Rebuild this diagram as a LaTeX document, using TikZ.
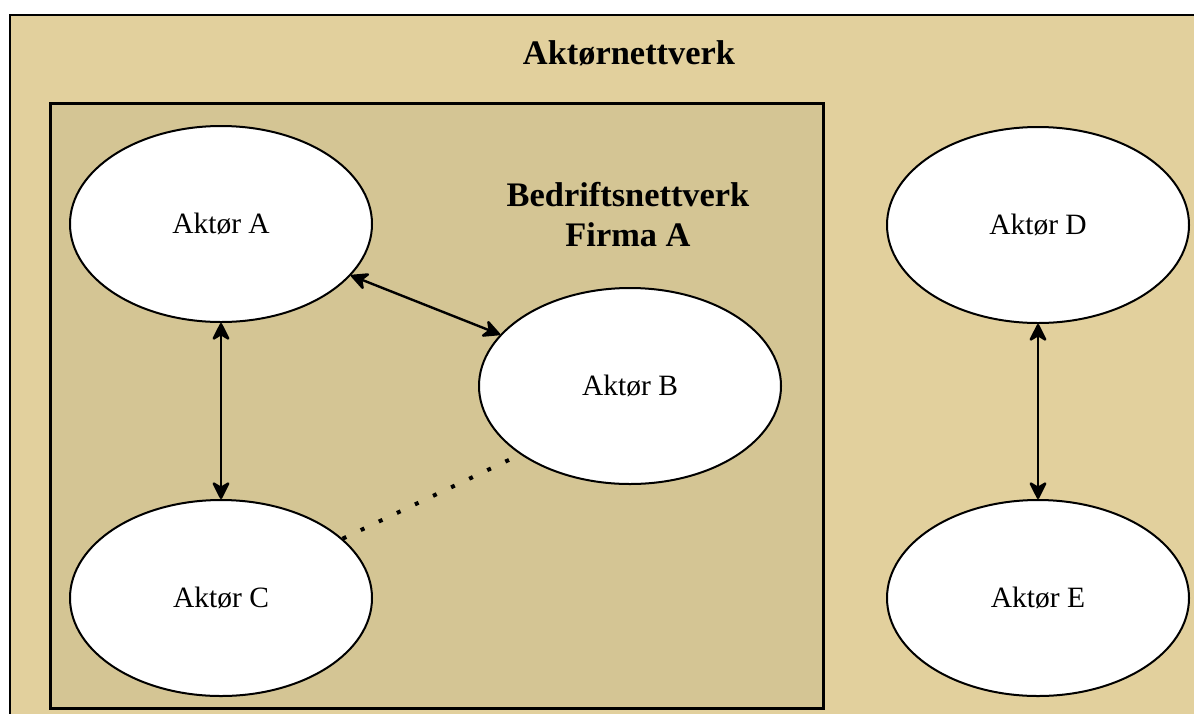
\documentclass[tikz,border=0pt]{standalone}
\usepackage{fontspec}
\setmainfont{Liberation Serif}
\usetikzlibrary{shapes.geometric,arrows.meta}
\definecolor{outerbg}{RGB}{226,208,157}
\definecolor{innerbg}{RGB}{212,197,148}
\begin{document}
\begin{tikzpicture}[x=1pt,y=-1pt,
  >={Stealth[length=20pt,width=20pt,inset=6pt,round=false,fill=black]},
  actor/.style={ellipse,draw=black,line width=2pt,fill=white,
    minimum width=302pt,minimum height=196pt,inner sep=0pt,
    font=\fontsize{29.5}{35}\selectfont},
  link/.style={line width=2.4pt,<->},
  weaklink/.style={line width=4pt,dash pattern=on 4pt off 16pt},
  heading/.style={font=\fontsize{34.4}{40}\selectfont\bfseries,align=center},
  frame/.style={draw=black}]
  \useasboundingbox (0,0) rectangle (1194,713);
  \clip (0,0) rectangle (1194,713);
  \fill[white] (0,0) rectangle (1194,713);

  % outer network and the company network inside it
  \draw[frame,fill=outerbg,line width=2pt] (10,15) rectangle (1220,740);
  \draw[frame,fill=innerbg,line width=3pt] (50,103) rectangle (823,708);

  \node[heading] (title) at (629,53) {Aktørnettverk};
  \node[heading] (firm) at (628,215) {Bedriftsnettverk\\Firma A};

  % actors
  \node[actor] (A) at (221,224) {Aktør A};
  \node[actor] (B) at (630,386) {Aktør B};
  \node[actor] (C) at (221,598) {Aktør C};
  \node[actor] (D) at (1038,225) {Aktør D};
  \node[actor] (E) at (1038,598) {Aktør E};

  % relations
  \draw[link] (A) -- (B);
  \draw[link] (A) -- (C);
  \draw[link] (D) -- (E);
  \draw[weaklink] (C.26) -- (B.212);
\end{tikzpicture}
\end{document}
